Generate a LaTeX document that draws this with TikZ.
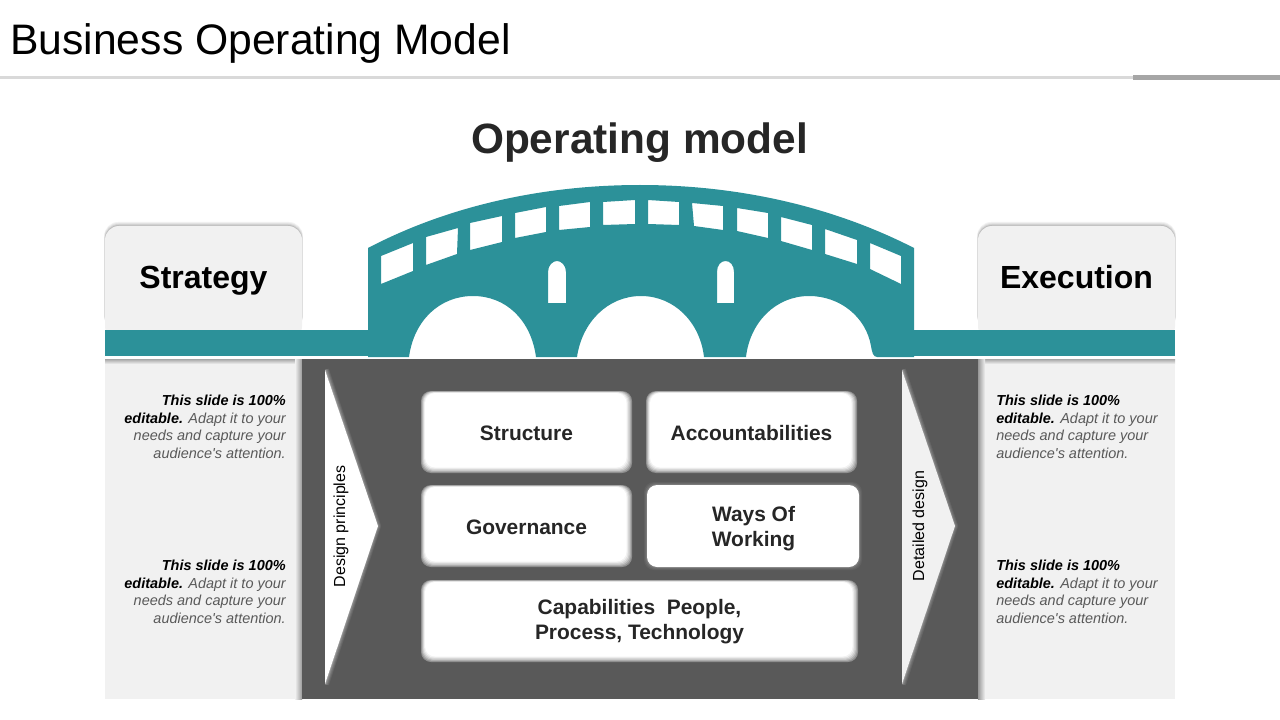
\documentclass[tikz,border=0pt]{standalone}
\usepackage{fontspec}
\setmainfont{Liberation Sans}[Ligatures=TeXOff]
\definecolor{teal1}{HTML}{2C9199}
\definecolor{panel}{HTML}{F1F1F1}
\definecolor{dark}{HTML}{595959}
\definecolor{ink}{HTML}{262626}
\definecolor{bodygrey}{HTML}{595959}
\tikzset{
  x=0.75pt,y=-0.75pt,
  boxlabel/.style={font=\fontsize{15.7}{18.75}\selectfont\bfseries,text=ink,align=center},
  headlabel/.style={font=\fontsize{24}{28}\selectfont\bfseries,text=black,anchor=base,inner sep=0pt},
  note/.style={font=\fontsize{10.85}{13.1}\selectfont\itshape,text=bodygrey,inner sep=0pt},
  sidelabel/.style={font=\fontsize{12}{14}\selectfont,text=black,rotate=90,inner sep=0pt},
  bridge/.style={fill=teal1,draw=none,even odd rule},
}
\newcommand{\notetxt}{\textbf{\textcolor{black}{This slide is 100\%}}}
\newcommand{\notetxtb}{\textbf{\textcolor{black}{editable.}}}
% bevelled box: name, x1, y1, x2, y2, text
\newcommand{\bevelbox}[6]{%
  \foreach \i/\c in {0/44,1/32,2/21,3/12,4/5,5/0}{%
    \fill[black!\c,rounded corners=7.5pt]
      ({#2+0.8*\i},{#3+0.4*\i}) rectangle ({#4-1.1*\i},{#5-1.1*\i});
  }%
  \node[boxlabel] (#1) at ({(#2+#4)/2},{(#3+#5)/2+1}) {#6};
}
\begin{document}
\begin{tikzpicture}
\useasboundingbox (0,0) rectangle (1280,720);
\fill[white] (0,0) rectangle (1280,720);
% header
\node[anchor=west,inner sep=0pt,font=\fontsize{32}{36}\selectfont,text=black] (title) at (10,43) {Business Operating Model};
\fill[black!15] (0,76) rectangle (1133,79);
\fill[black!35] (1133,75) rectangle (1280,80);
\node[font=\fontsize{31.8}{38}\selectfont\bfseries,text=ink,inner sep=0pt] (omtitle) at (639.5,143) {Operating model};
% side panels
\fill[panel] (105,359) rectangle (302,699);
\fill[panel] (978,359) rectangle (1175,699);
\shade[top color=black!35,bottom color=panel] (105,359) rectangle (302,364);
\shade[top color=black!35,bottom color=panel] (978,359) rectangle (1175,364);
\shade[left color=panel,right color=black!40] (295,359) rectangle (302,699);
\shade[left color=black!40,right color=panel] (978,359) rectangle (985,699);
% cards
\foreach \xa/\xb in {105/302,978/1175}{
  \foreach \d/\c in {4/5,3/10,2/17,1/26}{
    \fill[black!\c,rounded corners=10.5pt] ({\xa-0.2*\d},{226-\d}) rectangle ({\xb+0.2*\d},330);
  }
  \fill[panel,rounded corners=10.5pt] (\xa,226) -- (\xb,226) -- (\xb,340) -- (\xa,340) -- cycle;
}
\node[headlabel] (strategy) at (203.5,288) {Strategy};
\node[headlabel] (execution) at (1076.5,288) {Execution};
% deck
\fill[white] (105,356) rectangle (1175,359);
\fill[teal1] (105,330) rectangle (368,356);
\fill[teal1] (914,330) rectangle (1175,356);
% bridge
\fill[bridge]
  (368,248) .. controls (450,205) and (545,185) .. (640,185)
  .. controls (735,185) and (830,205) .. (914,248)
  -- (914,357) -- (877,357) .. controls (873,357) and (872,352) .. (871,346)
  .. controls (866,317) and (840,296) .. (809,296)
  .. controls (776,296) and (750,322) .. (746,357)
  -- (704,357) .. controls (700,322) and (674,296) .. (641,296)
  .. controls (608,296) and (582,322) .. (577,357)
  -- (536,357) .. controls (531,320) and (506,296) .. (473,296)
  .. controls (440,296) and (414,320) .. (409,357)
  -- (368,357) -- cycle
  (381,256) -- (413,243) -- (413,271) -- (381,284) -- cycle
  (426,237) -- (458,228) -- (457,254) -- (426,265) -- cycle
  (470,223) -- (502,216) -- (502,242) -- (470,250) -- cycle
  (515,213) -- (546,207) -- (546,232) -- (515,238) -- cycle
  (559,206) -- (590,202) -- (590,227) -- (559,230) -- cycle
  (603,202) -- (635,200) -- (635,224) -- (603,225) -- cycle
  (648,200) -- (679,202) -- (679,225) -- (648,224) -- cycle
  (692,203) -- (723,206) -- (723,230) -- (694,226) -- cycle
  (737,208) -- (768,213) -- (768,238) -- (737,231) -- cycle
  (781,217) -- (812,225) -- (812,250) -- (781,241) -- cycle
  (825,229) -- (857,240) -- (857,264) -- (825,254) -- cycle
  (870,243) -- (901,256) -- (901,284) -- (870,269) -- cycle
  (548,303) -- (548,272) .. controls (548,265) and (553,261) .. (557,261)
     .. controls (561,261) and (566,265) .. (566,272) -- (566,303) -- cycle
  (717,303) -- (717,272) .. controls (717,265) and (721,261) .. (725.5,261)
     .. controls (730,261) and (734,265) .. (734,272) -- (734,303) -- cycle;
% central panel
\fill[dark] (302,359) rectangle (978,699);
% chevrons: soft shadow on the outer edges
\foreach \w/\c in {8/8,6/16,4/27,2/40}{
  \draw[line width=\w*0.75pt,white!\c!dark,line join=round] (325,370) -- (377,526) -- (325,684);
  \draw[line width=\w*0.75pt,panel!\c!dark,line join=round] (902,370) -- (954,526) -- (902,684);
}
\fill[dark] (314,360) rectangle (325,695);
\fill[dark] (891,360) rectangle (902,695);
\fill[white] (325,370) -- (378,526) -- (325,684) -- cycle;
\fill[panel] (902,370) -- (955,526) -- (902,684) -- cycle;
\node[sidelabel] (design) at (341,526.5) {Design principles};
\node[sidelabel] (detailed) at (920,526) {Detailed design};
% boxes
\bevelbox{structure}{421}{391}{632}{473}{Structure}
\bevelbox{account}{646}{391}{857}{473}{Accountabilities}
\bevelbox{govern}{421}{485}{632}{567}{Governance}
\foreach \d/\c in {3/5,2/11,1/20}{
  \fill[white!\c!dark,rounded corners=7.5pt] ({647-\d},{485-\d}) rectangle ({859+\d},{567+\d});
}
\fill[white,rounded corners=7.5pt] (647,485) rectangle (859,567);
\node[boxlabel] (ways) at (753.5,529) {Ways Of\\Working};
\bevelbox{capab}{421}{580}{858}{662}{Capabilities~ People,\\Process, Technology}
% notes
\foreach \n/\yy in {a/426.7,b/591.7}{
  \node[note,align=right,anchor=east] (left\n) at (286,\yy) {\notetxt\\\notetxtb{} Adapt it to your\\needs and capture your\\audience's attention.};
  \node[note,align=left,anchor=west] (right\n) at (996,\yy) {\notetxt\\\notetxtb{} Adapt it to your\\needs and capture your\\audience's attention.};
}
\end{tikzpicture}
\end{document}
